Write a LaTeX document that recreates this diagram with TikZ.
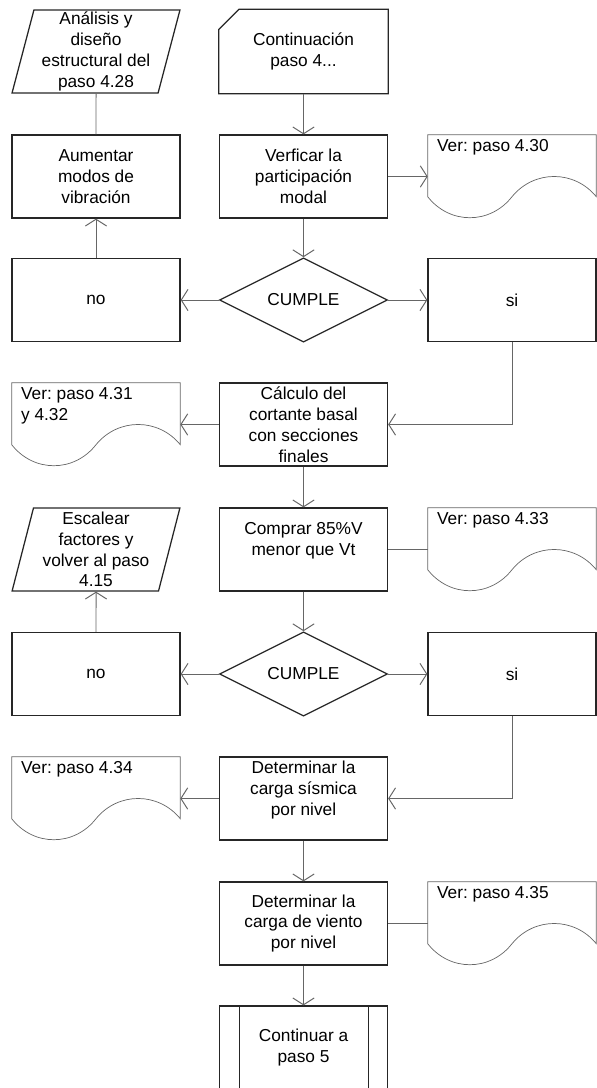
\documentclass[tikz,border=0pt]{standalone}
\usepackage{fontspec}
\setmainfont{Liberation Sans}
\frenchspacing
\usetikzlibrary{arrows.meta,shapes.geometric}
\tikzset{>={Straight Barb[angle=115:9pt]}}
\tikzset{font=\fontsize{12.3}{14.8}\selectfont}
\tikzset{
  stepbox/.style={draw=black!85, line width=0.9pt, minimum width=4.2cm,
    minimum height=2.075cm, align=center, inner sep=1pt},
  cardbox/.style={stepbox, draw=none},
  inout/.style={trapezium, trapezium left angle=76, trapezium right angle=104,
    trapezium stretches=true, draw=black!85, line width=0.9pt,
    minimum width=4.2cm, minimum height=2.075cm, align=center,
    inner xsep=1pt, inner ysep=0pt},
  decision/.style={diamond, draw=black!85, line width=0.9pt,
    minimum width=4.2cm, minimum height=2.075cm, inner sep=0pt},
  docframe/.style={minimum width=4.2cm, minimum height=2.075cm, inner sep=0pt},
  docline/.style={draw=black!60, line width=0.5pt},
  doctext/.style={anchor=north west, align=left, inner xsep=6.5pt, inner ysep=3pt},
  link/.style={draw=black!60, line width=0.7pt},
}

\begin{document}
\begin{tikzpicture}[x=0.025cm, y=-0.025cm]
  \useasboundingbox (0,0) rectangle (597,1088);

  \node[inout] (analisis) at (96,51.5) {Análisis y\\diseño\\estructural del\\paso 4.28};
  \node[cardbox] (cont) at (303.5,51.5) {Continuación\\paso 4...};
  \draw[draw=black!85, line width=0.9pt] (cont.south west) -- ([yshift=-0.5cm]cont.north west)
    -- ([xshift=0.5cm]cont.north west) -- (cont.north east) -- (cont.south east) -- cycle;

  \node[stepbox] (aumentar) at (96,176.5) {Aumentar\\modos de\\vibración};
  \node[stepbox] (verif) at (303.5,176.5) {Verficar la\\participación\\modal};
  \node[docframe] (d430) at (512,176.5) {};
  \node[doctext] at (d430.north west) {Ver: paso 4.30};

  \node[stepbox] (no1) at (96,300) {no};
  \node[decision] (cumple1) at (303.5,300) {CUMPLE};
  \node[stepbox] (si1) at (512,300) {si};

  \node[docframe] (d431) at (96,424.5) {};
  \node[doctext] at (d431.north west) {Ver: paso 4.31\\y 4.32};
  \node[stepbox] (calculo) at (303.5,424.5) {Cálculo del\\cortante basal\\con secciones\\finales};

  \node[inout] (escalear) at (96,549.5) {Escalear\\factores y\\volver al paso\\4.15};
  \node[stepbox] (comprar) at (303.5,549.5) {Comprar 85\%V\\menor que Vt\\~};
  \node[docframe] (d433) at (512,549.5) {};
  \node[doctext] at (d433.north west) {Ver: paso 4.33};

  \node[stepbox] (no2) at (96,674) {no};
  \node[decision] (cumple2) at (303.5,674) {CUMPLE};
  \node[stepbox] (si2) at (512,674) {si};

  \node[docframe] (d434) at (96,798.5) {};
  \node[doctext] at (d434.north west) {Ver: paso 4.34};
  \node[stepbox] (sismica) at (303.5,798.5) {Determinar la\\carga sísmica\\por nivel\\~};

  \node[stepbox] (viento) at (303.5,923.5) {Determinar la\\carga de viento\\por nivel};
  \node[docframe] (d435) at (512,923.5) {};
  \node[doctext] at (d435.north west) {Ver: paso 4.35};

  \node[stepbox] (fin) at (303.5,1047.5) {Continuar a\\paso 5};
  \draw[draw=black!85, line width=0.9pt] ([xshift=0.525cm]fin.north west) -- ([xshift=0.525cm]fin.south west);
  \draw[draw=black!85, line width=0.9pt] ([xshift=-0.5cm]fin.north east) -- ([xshift=-0.5cm]fin.south east);

  % document outlines with wavy bottom
  \foreach \d in {d430,d431,d433,d434,d435}
    \draw[docline] (\d.north west) -- ++(0,62) .. controls +(22,28) and +(-22,28) .. ([yshift=-1.55cm]\d.north)
      .. controls +(22,-27) and +(-22,-27) .. ([yshift=-1.55cm]\d.north east) -- (\d.north east) -- cycle;

  \draw[link,->] (cont.south) -- (verif.north);
  \draw[link,->] (verif.east) -- (d430.west);
  \draw[link,->] (verif.south) -- (cumple1.north);
  \draw[link,->] (cumple1.west) -- (no1.east);
  \draw[link,->] (cumple1.east) -- (si1.west);
  \draw[link,->] (no1.north) -- (aumentar.south);
  \draw[link] (aumentar.north) -- (analisis.south);
  \draw[link,->] (si1.south) |- (calculo.east);
  \draw[link,->] (calculo.west) -- (d431.east);
  \draw[link,->] (calculo.south) -- (comprar.north);
  \draw[link] (comprar.east) -- (d433.west);
  \draw[link,->] (comprar.south) -- (cumple2.north);
  \draw[link,->] (cumple2.west) -- (no2.east);
  \draw[link,->] (cumple2.east) -- (si2.west);
  \draw[link,->] (no2.north) -- (escalear.south);
  \draw[link,->] (si2.south) |- (sismica.east);
  \draw[link,->] (sismica.west) -- (d434.east);
  \draw[link,->] (sismica.south) -- (viento.north);
  \draw[link] (viento.east) -- (d435.west);
  \draw[link,->] (viento.south) -- (fin.north);
\end{tikzpicture}
\end{document}
